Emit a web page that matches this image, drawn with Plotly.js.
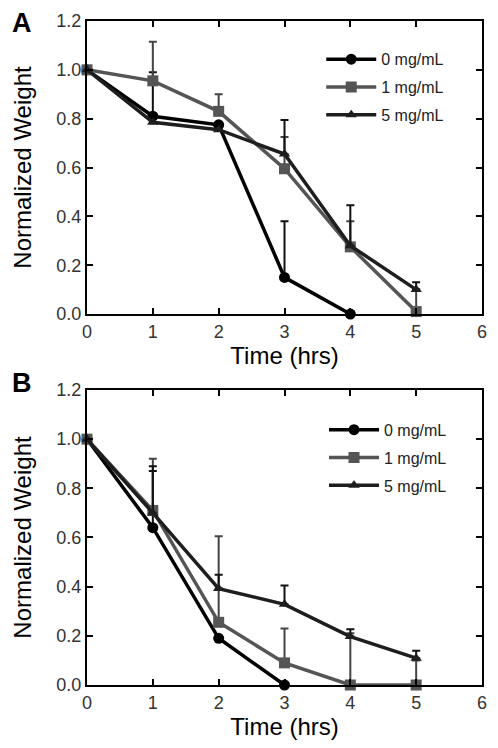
<!DOCTYPE html>
<html>
<head>
<meta charset="utf-8">
<script src="https://cdn.plot.ly/plotly-3.0.1.min.js"></script>
<style>
html,body{margin:0;padding:0;background:#fff;}
#chart{width:498px;height:748px;}
</style>
</head>
<body>
<div id="chart"></div>
<script>
// Panel A data
const timeA = [0, 1, 2, 3, 4, 5];
const a0 = [1.0, 0.81, 0.775, 0.15, 0.0];
const a0err = [0, 0.18, 0, 0.23, 0];
const a1 = [1.0, 0.955, 0.83, 0.595, 0.275, 0.01];
const a1err = [0, 0.16, 0.07, 0.13, 0.105, 0.09];
const a5 = [1.0, 0.785, 0.755, 0.655, 0.28, 0.10];
const a5err = [0, 0, 0, 0.14, 0.165, 0.03];

// Panel B data
const timeB = [0, 1, 2, 3, 4, 5];
const b0 = [1.0, 0.64, 0.19, 0.0];
const b0err = [0, 0.23, 0, 0];
const b1 = [1.0, 0.71, 0.255, 0.09, 0.0, 0.0];
const b1err = [0, 0.21, 0.35, 0.14, 0.21, 0.1];
const b5 = [1.0, 0.70, 0.392, 0.328, 0.197, 0.109];
const b5err = [0, 0.19, 0.056, 0.077, 0.03, 0.03];

const seriesNames = ['0 mg/mL', '1 mg/mL', '5 mg/mL'];
const xTicks = [0, 1, 2, 3, 4, 5, 6];
const yTicks = [0, 0.2, 0.4, 0.6, 0.8, 1.0, 1.2];
const panelLabels = ['A', 'B'];
const xTitle = 'Time (hrs)';
const yTitle = 'Normalized Weight';

const colors = ['#000000', '#555555', '#1e1e1e'];
const symbols = ['circle', 'square', 'triangle-up'];
const msizes = [11, 11, 10];

function mk(x, y, err, i, xa, ya, leg) {
  return {
    x: x.slice(0, y.length), y: y, type: 'scatter', mode: 'lines+markers',
    name: seriesNames[i], xaxis: xa, yaxis: ya, legend: leg,
    legendgroup: leg + i, cliponaxis: false,
    line: {color: colors[i], width: 3.5},
    marker: {color: colors[i], symbol: symbols[i], size: msizes[i]},
    error_y: {type: 'data', array: err, arrayminus: y.map(() => 0), symmetric: false,
      color: i === 1 ? '#444' : '#111', thickness: 2, width: 4}
  };
}

const data = [
  mk(timeA, a0, a0err, 0, 'x', 'y', 'legend'),
  mk(timeA, a1, a1err, 1, 'x', 'y', 'legend'),
  mk(timeA, a5, a5err, 2, 'x', 'y', 'legend'),
  mk(timeB, b0, b0err, 0, 'x2', 'y2', 'legend2'),
  mk(timeB, b1, b1err, 1, 'x2', 'y2', 'legend2'),
  mk(timeB, b5, b5err, 2, 'x2', 'y2', 'legend2')
];

const FAM = 'Liberation Sans, Arial, sans-serif';
const tickFont = {family: FAM, size: 18, color: '#333'};
const titleFont = {family: FAM, size: 24, color: '#000'};

function xax(anchor) {
  return {
    anchor: anchor, range: [0, 6], tickvals: xTicks, ticktext: xTicks.map(String),
    ticks: 'inside', ticklen: 6, tickwidth: 2, tickcolor: '#000',
    showline: true, linecolor: '#000', linewidth: 2, mirror: 'ticks',
    showgrid: false, zeroline: false, tickfont: tickFont,
    title: {text: xTitle, font: titleFont, standoff: 4}, automargin: false
  };
}
function yax(anchor, domain) {
  return {
    anchor: anchor, domain: domain, range: [0, 1.2], tickvals: yTicks,
    ticktext: yTicks.map(v => v.toFixed(1)),
    ticks: 'inside', ticklen: 6, tickwidth: 2, tickcolor: '#000',
    showline: true, linecolor: '#000', linewidth: 2, mirror: 'ticks',
    showgrid: false, zeroline: false, tickfont: tickFont,
    title: {text: yTitle, font: titleFont, standoff: 18}, automargin: false
  };
}

const legFont = {family: FAM, size: 16, color: '#222'};
function leg(x, y) {
  return {x: x, y: y, xanchor: 'left', yanchor: 'top', bgcolor: 'rgba(0,0,0,0)',
    font: legFont, itemwidth: 50, tracegroupgap: 4, traceorder: 'grouped'};
}

const layout = {
  width: 498, height: 748,
  margin: {l: 87, r: 16, t: 21, b: 63},
  paper_bgcolor: '#fff', plot_bgcolor: '#fff',
  showlegend: true,
  xaxis: xax('y'),
  yaxis: yax('x', [0.5587, 1]),
  xaxis2: xax('y2'),
  yaxis2: yax('x2', [0, 0.4443]),
  legend: leg(0.593, 0.968),
  legend2: leg(0.6, 0.41),
  annotations: [
    {text: '<b>' + panelLabels[0] + '</b>', xref: 'paper', yref: 'paper', x: -0.165, y: 0.997,
     xanchor: 'center', yanchor: 'middle', showarrow: false,
     font: {family: FAM, size: 27, color: '#000'}},
    {text: '<b>' + panelLabels[1] + '</b>', xref: 'paper', yref: 'paper', x: -0.165, y: 0.455,
     xanchor: 'center', yanchor: 'middle', showarrow: false,
     font: {family: FAM, size: 27, color: '#000'}}
  ]
};

Plotly.newPlot('chart', data, layout, {displayModeBar: false, staticPlot: true});
</script>
</body>
</html>
